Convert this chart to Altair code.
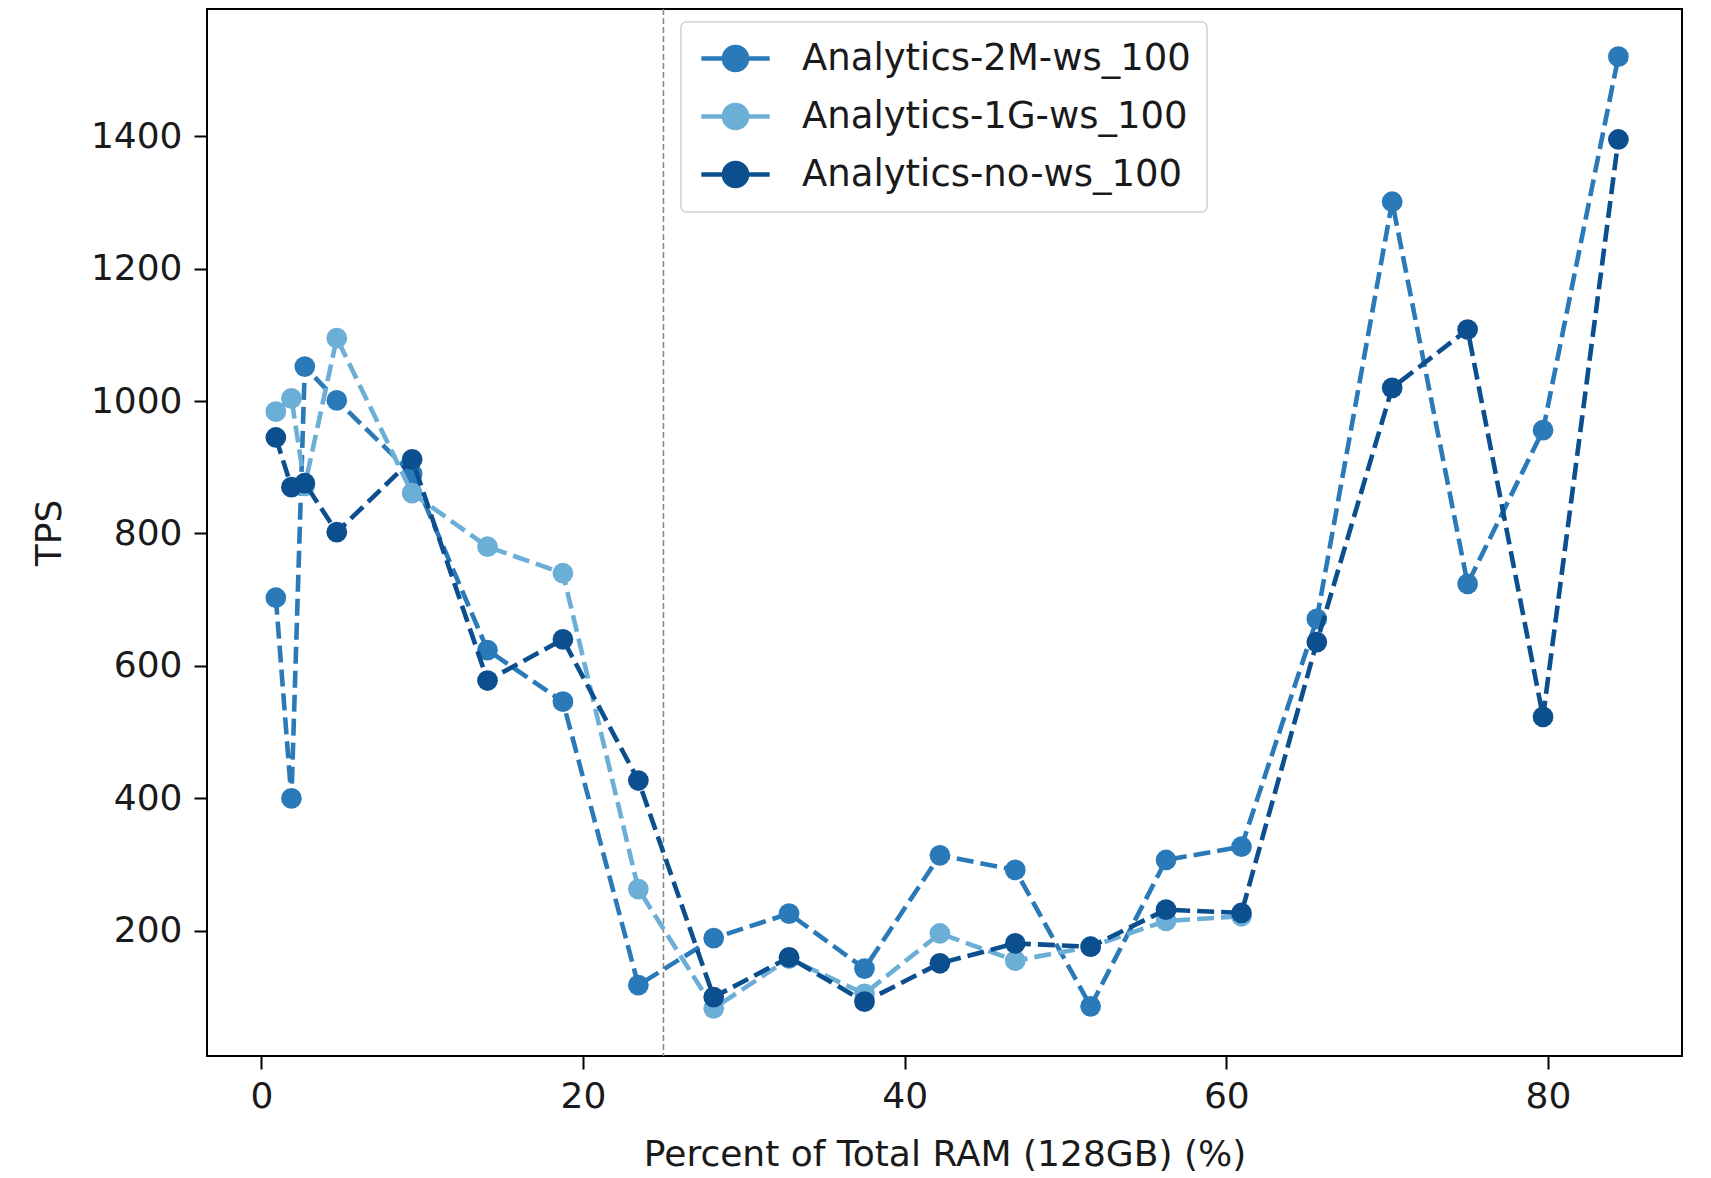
import altair as alt
import pandas as pd

# ---- data ----
x_pct = [0.9, 1.87, 2.7, 4.69, 9.375, 14.06, 18.75, 23.44, 28.125, 32.81, 37.5,
         42.19, 46.875, 51.56, 56.25, 60.94, 65.625, 70.31, 75.0, 79.69, 84.375]

tps_2m = [703, 400, 1052, 1001, 890, 624, 546, 118, 189, 226, 143,
          314, 292, 86, 307, 327, 671, 1301, 724, 956, 1520]
tps_1g = [984, 1004, 872, 1095, 861, 780, 740, 263, 83, 158, 105,
          196, 155, 176, 215, 222]
tps_no = [945, 870, 876, 802, 912, 578, 640, 427, 100, 160, 93,
          151, 181, 176, 232, 227, 636, 1020, 1108, 523, 1395]

series_names = ["Analytics-2M-ws_100", "Analytics-1G-ws_100", "Analytics-no-ws_100"]
series_colors = ["#2a7ab9", "#6baed6", "#0c4f8f"]
series_values = [tps_2m, tps_1g, tps_no]

vline_x = [25]

x_ticks = [0, 20, 40, 60, 80]
y_ticks = [200, 400, 600, 800, 1000, 1200, 1400]

rows = []
for name, vals in zip(series_names, series_values):
    for xv, yv in zip(x_pct, vals):
        rows.append({"x": xv, "tps": yv, "series": name})
df = pd.DataFrame(rows)
vdf = pd.DataFrame({"x": vline_x})

W, H = 1475, 1047
FONT = "DejaVu Sans"

xscale = alt.Scale(domain=[-3.38, 88.33], nice=False, zero=False)
yscale = alt.Scale(domain=[11, 1592], nice=False, zero=False)
cscale = alt.Scale(domain=series_names, range=series_colors)

legend_path = ("M-1.9,0L1.9,0"
               "M-0.64,0A0.64,0.64,0,1,0,0.64,0A0.64,0.64,0,1,0,-0.64,0Z")

xenc = alt.X("x:Q", scale=xscale,
             axis=alt.Axis(title="Percent of Total RAM (128GB) (%)", values=x_ticks,
                           format="d"))
yenc = alt.Y("tps:Q", scale=yscale,
             axis=alt.Axis(title="TPS", values=y_ticks, format="d"))

layers = []
vline = alt.Chart(vdf).mark_rule(color="#8a8a8a", strokeWidth=1.6, strokeDash=[6, 3]).encode(
    x=alt.X("x:Q", scale=xscale), y=alt.value(0), y2=alt.value(H))
layers.append(vline)

for i, name in enumerate(series_names):
    base = alt.Chart(df).transform_filter(alt.datum.series == name)
    color = alt.Color("series:N", scale=cscale,
                      legend=alt.Legend(title=None, symbolType=legend_path) if i == 0 else None)
    line = base.mark_line(strokeWidth=4.6, strokeDash=[17, 7]).encode(
        x=xenc, y=yenc, color=color)
    pts = base.mark_circle(size=430, opacity=1).encode(
        x=xenc, y=yenc, color=alt.Color("series:N", scale=cscale, legend=None))
    layers.append(line)
    layers.append(pts)

chart = alt.layer(*layers).properties(
    width=W, height=H,
    autosize=alt.AutoSizeParams(type="none"),
    padding={"left": 207, "top": 9, "right": 29, "bottom": 122},
    background="white",
).configure_view(
    stroke="black", strokeWidth=2
).configure_axis(
    grid=False, domain=False,
    labelFont=FONT, titleFont=FONT, labelFontSize=36, titleFontSize=36,
    titleFontWeight="normal", labelColor="#1a1a1a", titleColor="#1a1a1a",
    tickColor="black", tickWidth=2, tickSize=13,
).configure_axisX(
    labelPadding=10, titlePadding=23,
).configure_axisY(
    labelPadding=12, titlePadding=22,
).configure_legend(
    orient="none", legendX=474, legendY=13,
    fillColor="white", strokeColor="#d0d0d0", strokeWidth=1.5, cornerRadius=5,
    padding=16, labelFont=FONT, labelFontSize=37, labelColor="#1a1a1a",
    labelLimit=800,
    symbolSize=1296, symbolStrokeWidth=4.6, symbolOffset=18, labelOffset=46,
    rowPadding=15,
)

chart.save("out.html", embed_options={"renderer": "svg", "actions": False})
